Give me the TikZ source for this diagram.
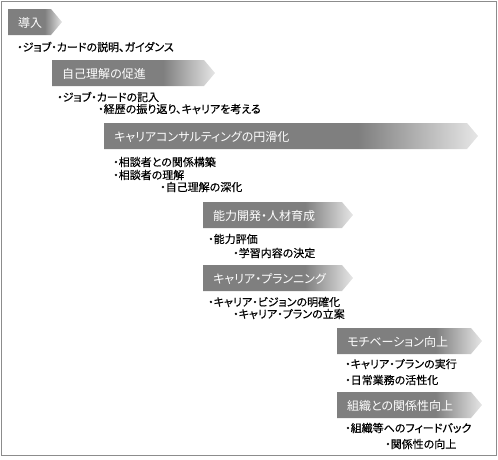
\documentclass[tikz,border=0pt]{standalone}
\usepackage{fontspec}
\setmainfont{Noto Sans CJK JP}[RawFeature=+palt]
\newfontfamily\jpprop{Noto Sans CJK JP}[RawFeature=+palt, FakeBold=0.4]
\usepackage{tikz}
\usetikzlibrary{positioning}
\definecolor{stagedark}{HTML}{7F7F7F}
\definecolor{stagelight}{HTML}{E6E6E6}
\definecolor{framegray}{HTML}{8C8C8C}
\pgfdeclarehorizontalshading{stagefade}{100bp}{color(0bp)=(stagedark); color(25bp)=(stagedark); color(59bp)=(stagedark); color(75bp)=(stagelight); color(100bp)=(stagelight)}

\begin{document}
\begin{tikzpicture}[x=1pt, y=-1pt,
  font=\fontsize{12pt}{13pt}\selectfont,
  stage/.style={shading=stagefade},
  head/.style={anchor=west, inner sep=0pt, text=white},
  item/.style={anchor=west, inner sep=0pt, font=\jpprop\fontsize{11pt}{12pt}\selectfont}]
\useasboundingbox (0,0) rectangle (498,459);
\draw[framegray, line width=1pt] (1,1) rectangle (496,455);
% stage arrows
\foreach \n/\x/\y/\w/\t in {intro/8/9/54/導入, self/52/60/163/自己理解の促進,
    consult/104/123/374/キャリアコンサルティングの円滑化, skill/203/202/150/能力開発・人材育成,
    plan/203/265/150/キャリア・プランニング, motive/337/328/145/モチベーション向上,
    org/337/392/145/組織との関係性向上} {
  \path[stage] (\x,\y) -- ++(\w-11,0) -- ++(11,13) -- ++(-11,13) -- ++(11-\w,0) -- cycle;
  \node[head] (\n) at (\x+10,\y+13.5) {\t};
}
% items under each stage
\node[item] (introA)   at (17,47)   {・ジョブ・カードの説明、ガイダンス};
\node[item] (selfA)    at (57,97)   {・ジョブ・カードの記入};
\node[item] (selfB)    at (98,109)  {・経歴の振り返り、キャリアを考える};
\node[item] (consultA) at (113,162) {・相談者との関係構築};
\node[item] (consultB) at (113,175) {・相談者の理解};
\node[item] (consultC) at (160,187) {・自己理解の深化};
\node[item] (skillA)   at (208,239) {・能力評価};
\node[item] (skillB)   at (233,253) {・学習内容の決定};
\node[item] (planA)    at (208,302) {・キャリア・ビジョンの明確化};
\node[item] (planB)    at (233,314) {・キャリア・プランの立案};
\node[item] (motiveA)  at (345,364) {・キャリア・プランの実行};
\node[item] (motiveB)  at (345,380) {・日常業務の活性化};
\node[item] (orgA)     at (345,428) {・組織等へのフィードバック};
\node[item] (orgB)     at (385,444) {・関係性の向上};
\end{tikzpicture}
\end{document}
